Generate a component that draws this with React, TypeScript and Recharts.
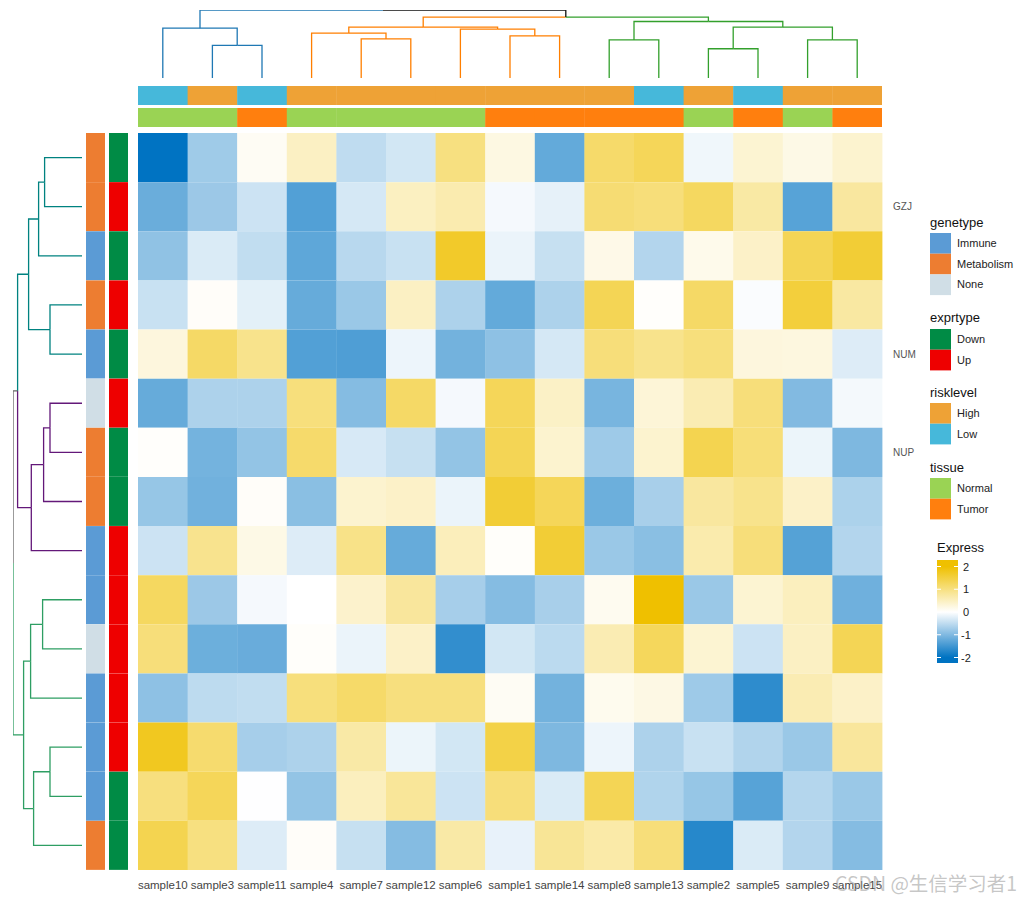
import { BarChart, Bar, Cell, XAxis, YAxis, LineChart, Line } from "recharts";

// column order as drawn (after clustering)
const samples = ["sample10", "sample3", "sample11", "sample4", "sample7", "sample12", "sample6", "sample1", "sample14", "sample8", "sample13", "sample2", "sample5", "sample9", "sample15"];
const riskLevel = ["Low", "High", "Low", "High", "High", "High", "High", "High", "High", "High", "Low", "High", "Low", "High", "High"];
const tissue = ["Normal", "Normal", "Tumor", "Normal", "Normal", "Normal", "Normal", "Tumor", "Tumor", "Tumor", "Tumor", "Normal", "Tumor", "Normal", "Tumor"];

// rows (genes); only three row names are printed in the figure
const geneNames = ["", "GZJ", "", "", "NUM", "", "NUP", "", "", "", "", "", "", "", ""];
const geneType = ["Metabolism", "Metabolism", "Immune", "Metabolism", "Immune", "None", "Metabolism", "Metabolism", "Immune", "Immune", "None", "Immune", "Immune", "Immune", "Metabolism"];
const exprType = ["Down", "Up", "Down", "Up", "Down", "Up", "Down", "Down", "Up", "Up", "Up", "Up", "Up", "Down", "Down"];

// scaled expression, one array per row
const expr = [
  [-2.1, -0.75, 0.09, 0.47, -0.5, -0.35, 1.0, 0.23, -1.22, 1.17, 1.3, -0.12, 0.35, 0.2, 0.38],
  [-1.17, -0.78, -0.4, -1.36, -0.33, 0.49, 0.63, -0.08, -0.2, 1.1, 1.04, 1.25, 0.71, -1.32, 0.75],
  [-0.87, -0.29, -0.49, -1.26, -0.56, -0.43, 1.67, -0.16, -0.45, 0.18, -0.6, 0.16, 0.43, 1.33, 1.58],
  [-0.43, 0.05, -0.22, -1.2, -0.79, 0.47, -0.64, -1.22, -0.64, 1.33, 0.03, 1.2, -0.04, 1.53, 0.73],
  [0.27, 1.2, 0.9, -1.36, -1.38, -0.14, -1.1, -0.89, -0.33, 1.04, 0.9, 1.03, 0.27, 0.25, -0.27],
  [-1.2, -0.64, -0.64, 1.03, -0.96, 1.2, -0.08, 1.3, 0.45, -1.06, 0.31, 0.6, 1.04, -0.98, -0.09],
  [0.03, -1.09, -0.85, 1.16, -0.31, -0.45, -0.85, 1.33, 0.38, -0.76, 0.38, 1.37, 1.06, -0.15, -1.01],
  [-0.82, -1.11, 0.05, -0.92, 0.38, 0.43, -0.16, 1.58, 1.3, -1.15, -0.68, 0.75, 0.9, 0.43, -0.65],
  [-0.4, 0.89, 0.2, -0.27, 0.93, -1.2, 0.53, 0.04, 1.58, -0.79, -0.92, 0.64, 1.04, -1.33, -0.6],
  [1.25, -0.78, -0.08, 0, 0.4, 0.78, -0.7, -0.96, -0.68, 0.12, 2.0, -0.79, 0.35, 0.51, -1.13],
  [1.04, -1.15, -1.18, 0.04, -0.16, 0.43, -1.61, -0.35, -0.53, 0.6, 1.28, 0.35, -0.4, 0.47, 1.33],
  [-0.89, -0.52, -0.49, 1.03, 1.18, 1.01, 1.01, 0.09, -1.1, 0.13, 0.21, -0.76, -1.64, 0.6, 0.43],
  [1.75, 1.14, -0.7, -0.64, 0.7, -0.15, -0.35, 1.44, -1.01, -0.14, -0.64, -0.43, -0.61, -0.79, 0.78],
  [1.01, 1.3, -0.01, -0.85, 0.51, 0.8, -0.4, 1.04, -0.29, 1.33, -0.62, -0.82, -1.32, -0.59, -0.79],
  [1.37, 1.0, -0.27, 0.05, -0.45, -0.96, 0.7, -0.18, 0.82, 0.68, 1.04, -1.7, -0.29, -0.6, -0.96],
];

// dendrograms: leaves are 1-based positions, nodes listed children first
type Merge = { id: string; a: number | string; b: number | string; h: number; k: string };
const colMerges: Merge[] = [
  { id: "n2", a: 2, b: 3, h: 3.24, k: "blue" },
  { id: "n1", a: 1, b: "n2", h: 4.94, k: "blue" },
  { id: "n5", a: 5, b: 6, h: 3.87, k: "orange" },
  { id: "n4", a: 4, b: "n5", h: 4.44, k: "orange" },
  { id: "n7", a: 8, b: 9, h: 4.17, k: "orange" },
  { id: "n6", a: 7, b: "n7", h: 4.84, k: "orange" },
  { id: "n3", a: "n4", b: "n6", h: 5.04, k: "orange" },
  { id: "n9", a: 10, b: 11, h: 3.77, k: "green" },
  { id: "n11", a: 12, b: 13, h: 2.9, k: "green" },
  { id: "n12", a: 14, b: 15, h: 3.77, k: "green" },
  { id: "n10", a: "n11", b: "n12", h: 5.04, k: "green" },
  { id: "n8", a: "n9", b: "n10", h: 5.6, k: "green" },
  { id: "nr", a: "n3", b: "n8", h: 6.04, k: "" },
  { id: "root", a: "n1", b: "nr", h: 6.74, k: "" },
];
const rowMerges: Merge[] = [
  { id: "t3", a: 1, b: 2, h: 3.74, k: "teal" },
  { id: "t2", a: "t3", b: 3, h: 4.34, k: "teal" },
  { id: "t4", a: 4, b: 5, h: 3.2, k: "teal" },
  { id: "t1", a: "t2", b: "t4", h: 5.34, k: "teal" },
  { id: "p3", a: 6, b: 7, h: 3.2, k: "purple" },
  { id: "p2", a: "p3", b: 8, h: 3.84, k: "purple" },
  { id: "p1", a: "p2", b: 9, h: 5.07, k: "purple" },
  { id: "g3", a: 10, b: 11, h: 3.94, k: "green" },
  { id: "g2", a: "g3", b: 12, h: 5.14, k: "green" },
  { id: "g5", a: 13, b: 14, h: 3.2, k: "green" },
  { id: "g4", a: "g5", b: 15, h: 4.84, k: "green" },
  { id: "g1", a: "g2", b: "g4", h: 5.84, k: "green" },
  { id: "ra", a: "t1", b: "p1", h: 6.44, k: "" },
  { id: "rroot", a: "ra", b: "g1", h: 6.9, k: "" },
];

const colClusterColors: Record<string, string> = { blue: "#1F78B4", orange: "#FF7F00", green: "#33A02C" };
const rowClusterColors: Record<string, string> = { teal: "#008280", purple: "#631879", green: "#2E9E63" };
const geneTypeColors: Record<string, string> = { Immune: "#5B9BD5", Metabolism: "#ED7D31", None: "#D0DEE6" };
const exprTypeColors: Record<string, string> = { Down: "#008B45", Up: "#EE0000" };
const riskColors: Record<string, string> = { High: "#EEA236", Low: "#46B8DA" };
const tissueColors: Record<string, string> = { Normal: "#9AD354", Tumor: "#FF7F0E" };

const FONT = "Liberation Sans, Arial, sans-serif";

// colour ramp -2 / 0 / 2, linear in RGB
const LOW = [0x00, 0x73, 0xc2];
const MID = [0xff, 0xff, 0xff];
const HIGH = [0xef, 0xc0, 0x00];
function colour(v: number) {
  const t = Math.max(-2, Math.min(2, v)) / 2;
  const end = t < 0 ? LOW : HIGH;
  const u = Math.abs(t);
  return (
    "#" +
    MID.map((m, i) =>
      Math.round(m + (end[i] - m) * u)
        .toString(16)
        .padStart(2, "0")
    ).join("")
  );
}

function dendroEdges(merges: Merge[], palette: Record<string, string>, base: string, swap: boolean) {
  const pos: Record<string, number> = {};
  const hgt: Record<string, number> = {};
  const clu: Record<string, string> = {};
  const p = (k: number | string) => (typeof k === "number" ? k : pos[k]);
  const h = (k: number | string) => (typeof k === "number" ? 0 : hgt[k]);
  const edges: { color: string; pts: { x: number; y: number }[] }[] = [];
  merges.forEach((n) => {
    pos[n.id] = (p(n.a) + p(n.b)) / 2;
    hgt[n.id] = n.h;
    clu[n.id] = n.k;
    [n.a, n.b].forEach((ch) => {
      const k = typeof ch === "number" ? n.k : clu[ch];
      const raw = [
        [pos[n.id], n.h],
        [p(ch), n.h],
        [p(ch), h(ch)],
      ];
      edges.push({
        color: k ? palette[k] : base,
        pts: raw.map(([lp, hh]) => (swap ? { x: hh, y: lp } : { x: lp, y: hh })),
      });
    });
  });
  return edges;
}

const heatData = samples.map((s) => {
  const o: Record<string, string | number> = { sample: s };
  expr.forEach((_, i) => (o[`r${i}`] = 1));
  return o;
});
const nameTicks = geneNames.map((n, i) => (n ? i + 0.5 : -1)).filter((v) => v >= 0);

const HM_LEFT = 138;
const HM_TOP = 133;
const HM_W = 744;
const HM_H = 737;

function ColumnBand({ values, colors, top }: { values: string[]; colors: Record<string, string>; top: number }) {
  const data = values.map((v, j) => ({ sample: samples[j], v: 1 }));
  return (
    <div style={{ position: "absolute", left: HM_LEFT, top }}>
      <BarChart width={HM_W} height={19} data={data} margin={{ top: 0, right: 0, bottom: 0, left: 0 }} barCategoryGap={0}>
        <XAxis dataKey="sample" hide />
        <YAxis hide domain={[0, 1]} />
        <Bar dataKey="v" isAnimationActive={false}>
          {values.map((v, j) => (
            <Cell key={j} fill={colors[v]} />
          ))}
        </Bar>
      </BarChart>
    </div>
  );
}

function RowBand({ values, colors, left }: { values: string[]; colors: Record<string, string>; left: number }) {
  const data = values.map((v, i) => ({ row: `g${i}`, v: 1 }));
  return (
    <div style={{ position: "absolute", left, top: HM_TOP }}>
      <BarChart layout="vertical" width={19} height={HM_H} data={data} margin={{ top: 0, right: 0, bottom: 0, left: 0 }} barCategoryGap={0}>
        <XAxis type="number" hide domain={[0, 1]} />
        <YAxis type="category" dataKey="row" hide />
        <Bar dataKey="v" isAnimationActive={false}>
          {values.map((v, i) => (
            <Cell key={i} fill={colors[v]} />
          ))}
        </Bar>
      </BarChart>
    </div>
  );
}

const legendGroups = [
  { title: "genetype", titleY: 222, y0: 233, items: ["Immune", "Metabolism", "None"], colors: geneTypeColors },
  { title: "exprtype", titleY: 317, y0: 329, items: ["Down", "Up"], colors: exprTypeColors },
  { title: "risklevel", titleY: 392, y0: 403, items: ["High", "Low"], colors: riskColors },
  { title: "tissue", titleY: 467, y0: 478, items: ["Normal", "Tumor"], colors: tissueColors },
];
const barTicks = [2, 1, 0, -1, -2];

function Legends() {
  const zeroY = 612;
  const unit = 22.75;
  const gradStops = [2.3, 2, 1, 0, -1, -2, -2.2];
  const barTop = 560;
  const barBottom = 663;
  return (
    <svg width={1022} height={900} style={{ position: "absolute", left: 0, top: 0, pointerEvents: "none" }} fontFamily={FONT}>
      <defs>
        <linearGradient id="express" x1="0" y1="0" x2="0" y2="1">
          {gradStops.map((v) => (
            <stop key={v} offset={(zeroY - v * unit - barTop) / (barBottom - barTop)} stopColor={colour(v)} />
          ))}
        </linearGradient>
      </defs>
      {legendGroups.map((g) => (
        <g key={g.title}>
          <text x={930} y={g.titleY + 4.5} fontSize={13} fill="#111">
            {g.title}
          </text>
          {g.items.map((it, i) => (
            <g key={it}>
              <rect x={930} y={g.y0 + i * 20.7} width={21} height={20.7} fill={g.colors[it]} />
              <text x={957} y={g.y0 + i * 20.7 + 14} fontSize={11} fill="#222">
                {it}
              </text>
            </g>
          ))}
        </g>
      ))}
      <text x={937} y={551.5} fontSize={13} fill="#111">
        Express
      </text>
      <rect x={937} y={barTop} width={21} height={barBottom - barTop} fill="url(#express)" />
      {barTicks.map((v) => (
        <g key={v}>
          <line x1={937} x2={941} y1={zeroY - v * unit} y2={zeroY - v * unit} stroke="#fff" strokeWidth={1} />
          <line x1={954} x2={958} y1={zeroY - v * unit} y2={zeroY - v * unit} stroke="#fff" strokeWidth={1} />
          <text x={v < 0 ? 961 : 963} y={zeroY - v * unit + 4} fontSize={11} fill="#222">
            {v}
          </text>
        </g>
      ))}
      <text x={835} y={891} fontSize={19.5} fill="rgba(150,150,150,0.55)" fontFamily="Noto Sans CJK SC, sans-serif">
        CSDN @生信学习者1
      </text>
    </svg>
  );
}

export default function App() {
  const colEdges = dendroEdges(colMerges, colClusterColors, "#111111", false);
  const rowEdges = dendroEdges(rowMerges, rowClusterColors, "#666666", true);
  return (
    <div style={{ position: "absolute", left: 0, top: 0, width: 1022, height: 900, background: "#fff", fontFamily: FONT }}>
      {/* column dendrogram */}
      <div style={{ position: "absolute", left: HM_LEFT, top: 10 }}>
        <LineChart width={HM_W} height={68} margin={{ top: 0, right: 0, bottom: 0, left: 0 }}>
          <XAxis type="number" dataKey="x" domain={[0.5, 15.5]} hide />
          <YAxis type="number" domain={[0, 6.74]} hide />
          {colEdges.map((e, i) => (
            <Line key={i} data={e.pts} dataKey="y" stroke={e.color} strokeWidth={1.3} dot={false} isAnimationActive={false} />
          ))}
        </LineChart>
      </div>

      {/* row dendrogram */}
      <div style={{ position: "absolute", left: 13, top: HM_TOP }}>
        <LineChart width={69} height={HM_H} margin={{ top: 0, right: 0, bottom: 0, left: 0 }}>
          <XAxis type="number" dataKey="x" domain={[0, 6.9]} reversed hide />
          <YAxis type="number" domain={[0.5, 15.5]} reversed hide />
          {rowEdges.map((e, i) => (
            <Line key={i} data={e.pts} dataKey="y" stroke={e.color} strokeWidth={1.3} dot={false} isAnimationActive={false} />
          ))}
        </LineChart>
      </div>

      <ColumnBand values={riskLevel} colors={riskColors} top={86} />
      <ColumnBand values={tissue} colors={tissueColors} top={108} />
      <RowBand values={geneType} colors={geneTypeColors} left={86} />
      <RowBand values={exprType} colors={exprTypeColors} left={109} />

      {/* heatmap body */}
      <div style={{ position: "absolute", left: HM_LEFT, top: HM_TOP }}>
        <BarChart width={HM_W + 40} height={HM_H + 30} data={heatData} margin={{ top: 0, right: 0, bottom: 0, left: 0 }} barCategoryGap={0} barGap={0}>
          <XAxis
            dataKey="sample"
            axisLine={false}
            tickLine={false}
            interval={0}
            height={30}
            tickMargin={5}
            tick={{ fontSize: 11.5, fill: "#444", fontFamily: FONT }}
          />
          <YAxis
            orientation="right"
            type="number"
            domain={[0, 15]}
            reversed
            ticks={nameTicks}
            interval={0}
            tickFormatter={(v: number) => geneNames[Math.floor(v)]}
            width={40}
            axisLine={false}
            tickLine={false}
            tickMargin={5}
            tick={{ fontSize: 10, fill: "#555", fontFamily: FONT }}
          />
          {expr.map((row, i) => (
            <Bar key={i} dataKey={`r${i}`} stackId="hm" isAnimationActive={false}>
              {row.map((v, j) => (
                <Cell key={j} fill={colour(v)} />
              ))}
            </Bar>
          ))}
        </BarChart>
      </div>

      <Legends />
    </div>
  );
}
